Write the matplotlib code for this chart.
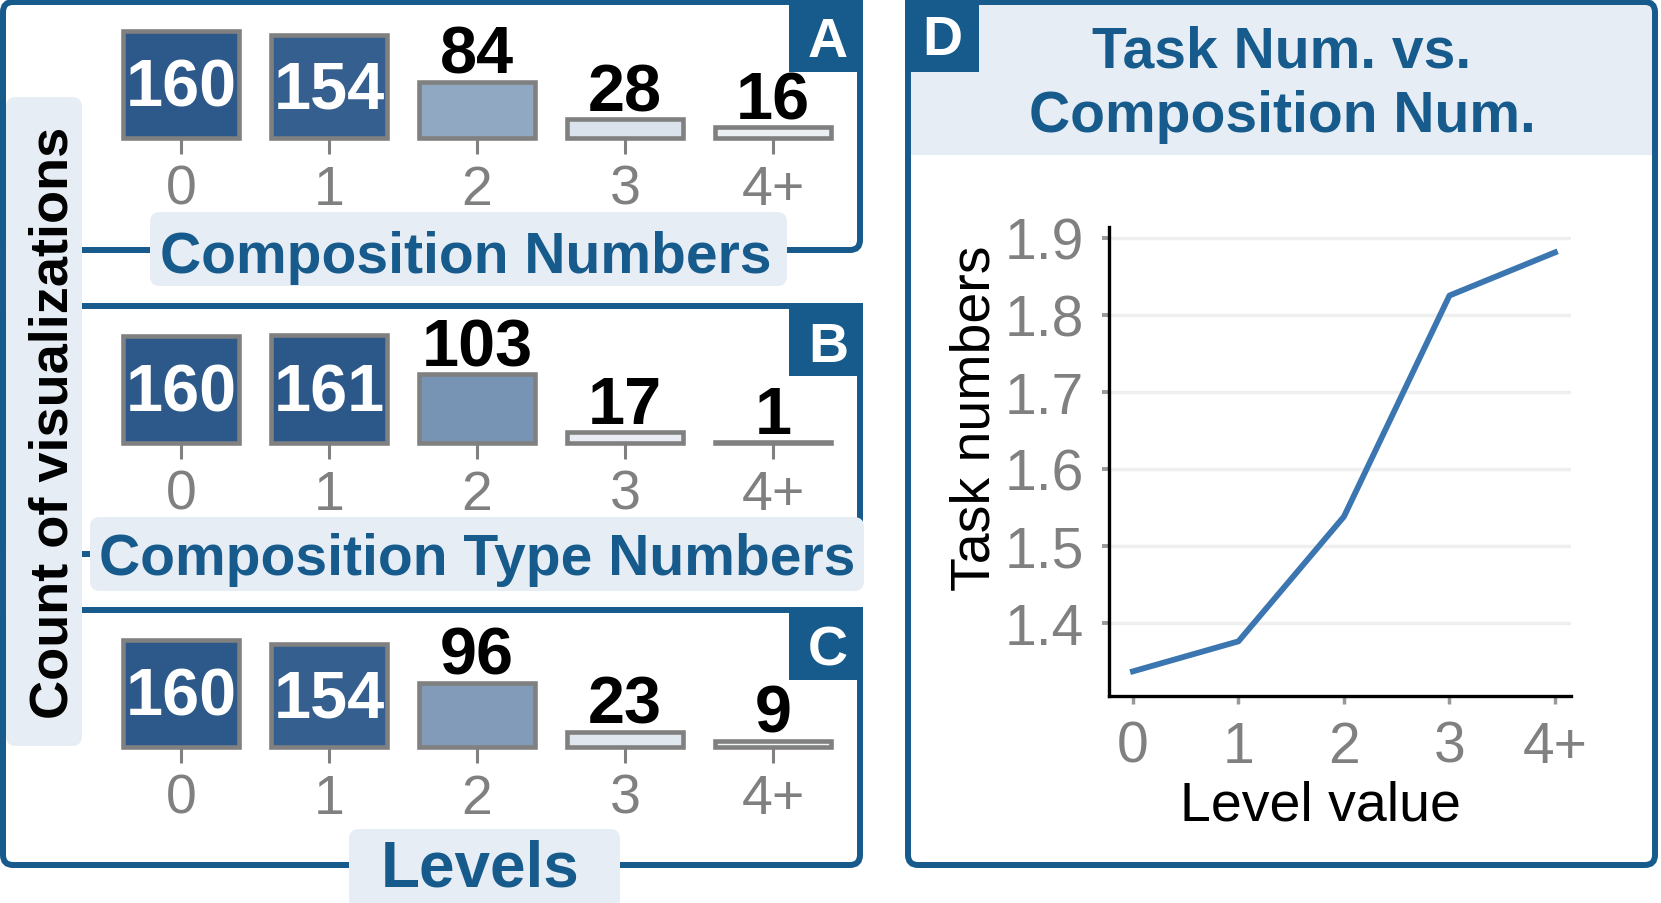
import matplotlib
matplotlib.use("Agg")
import matplotlib.pyplot as plt
from matplotlib.patches import FancyBboxPatch, Rectangle
from matplotlib.colors import LinearSegmentedColormap, Normalize

plt.rcParams['font.family'] = ['Liberation Sans', 'DejaVu Sans']

# data
levels = ['0', '1', '2', '3', '4+']
composition_numbers = [160, 154, 84, 28, 16]
composition_type_numbers = [160, 161, 103, 17, 1]
level_counts = [160, 154, 96, 23, 9]
task_numbers = [1.337, 1.376, 1.538, 1.825, 1.881]
task_ticks = [1.4, 1.5, 1.6, 1.7, 1.8, 1.9]

W, H = 1661, 904
BLUE = '#175a8c'
PALE = '#e6edf4'
GREY = '#808080'

cmap = LinearSegmentedColormap.from_list('bars', ['#ffffff', '#2b5889'])
norm = Normalize(0, 161)

fig = plt.figure(figsize=(W / 100, H / 100), dpi=100)

# background canvas in pixel units for frames and boxes
bg = fig.add_axes([0, 0, 1, 1])
bg.set_xlim(0, W)
bg.set_ylim(H, 0)
bg.axis('off')


def px_axes(x0, y0, x1, y1):
    ax = fig.add_axes([x0 / W, 1 - y1 / H, (x1 - x0) / W, (y1 - y0) / H])
    ax.set_facecolor('none')
    return ax


def frame(x0, y0, x1, y1):
    bg.add_patch(FancyBboxPatch((x0, y0), x1 - x0, y1 - y0,
                                boxstyle='round,pad=0,rounding_size=10',
                                fill=False, ec=BLUE, lw=4.3, zorder=1))


def tag(x0, y0, letter, tx, ty):
    bg.add_patch(Rectangle((x0, y0), 74, 73, fc=BLUE, ec='none', zorder=2))
    bg.text(tx, ty, letter, color='white', fontsize=40, fontweight='bold',
            ha='center', va='baseline', zorder=5)


def label_box(x0, y0, x1, y1, text, tx, ty, size=41, color=BLUE, rot=0):
    bg.add_patch(FancyBboxPatch((x0, y0), x1 - x0, y1 - y0,
                                boxstyle='round,pad=0,rounding_size=10',
                                fc=PALE, ec='none', zorder=3))
    bg.text(tx, ty, text, color=color, fontsize=size, fontweight='bold',
            ha='center', va='baseline', rotation=rot, rotation_mode='anchor',
            zorder=5)


# frames of panels A, B, C and the shared left edge
frame(3, 3, 860, 251)
frame(3, 307, 860, 555)
frame(3, 611, 860, 866)
bg.plot([3, 3], [20, 850], color=BLUE, lw=4.3, zorder=1)

tag(789, 0, 'A', 828, 57)
tag(789, 304, 'B', 828, 362)
tag(789, 608, 'C', 828, 666)

label_box(150, 213, 787, 287, 'Composition Numbers', 466, 273)
label_box(90, 518, 864, 592, 'Composition Type Numbers', 477, 575)
label_box(349, 830, 620, 910, 'Levels', 480, 887, size=46)
label_box(6, 98, 82, 747, 'Count of visualizations', 68, 423,
          size=39, color='black', rot=90)


def bar_panel(bottom, values):
    ax = px_axes(107, bottom - 120.4, 847, bottom)
    ax.set_xlim(-0.5, 4.5)
    ax.set_ylim(0, 180)
    x = list(range(len(values)))
    ax.bar(x, values, width=0.79, color=cmap(norm(values)),
           edgecolor=GREY, linewidth=3.3, clip_on=False)
    for i, v in zip(x, values):
        if v >= 120:
            ax.text(i, v * 0.3, str(v), color='white', fontsize=48,
                    fontweight='bold', ha='center', va='baseline')
        else:
            ax.annotate(str(v), (i, v), xytext=(0, 6.5),
                        textcoords='offset points', ha='center',
                        va='baseline', fontsize=48, fontweight='bold',
                        color='black')
    ax.set_xticks(x, levels)
    ax.set_yticks([])
    ax.tick_params(axis='x', length=11.5, width=2.2, color=GREY,
                   labelcolor=GREY, labelsize=40, pad=7)
    for s in ['top', 'bottom', 'left', 'right']:
        ax.spines[s].set_visible(False)
    return ax


bar_panel(139, composition_numbers)
bar_panel(444, composition_type_numbers)
bar_panel(748, level_counts)

# panel D
bg.add_patch(Rectangle((911, 6), 741, 150, fc=PALE, ec='none', zorder=0.5))
frame(908, 3, 1655, 866)
tag(905, 0, 'D', 942, 55)
bg.text(1282, 68, 'Task Num. vs.', color=BLUE, fontsize=41,
        fontweight='bold', ha='center', va='baseline', zorder=5)
bg.text(1282, 132, 'Composition Num.', color=BLUE, fontsize=41,
        fontweight='bold', ha='center', va='baseline', zorder=5)

ax = px_axes(1109, 228, 1571, 697)
ax.plot(range(len(task_numbers)), task_numbers, color='#3b76b1', lw=4.2)
ax.set_xlim(-0.227, 4.152)
ax.set_ylim(1.305, 1.914)
ax.set_xticks(range(len(levels)), levels)
ax.set_yticks(task_ticks, [f'{t:.1f}' for t in task_ticks])
ax.grid(axis='y', color='#efefef', lw=2.5)
ax.set_axisbelow(True)
for s in ['top', 'right']:
    ax.spines[s].set_visible(False)
for s in ['left', 'bottom']:
    ax.spines[s].set_linewidth(2.4)
    ax.spines[s].set_color('black')
ax.tick_params(axis='y', length=5, width=2.8, color='#999999',
               labelcolor=GREY, labelsize=41, pad=13)
ax.tick_params(axis='x', length=6, width=2.5, color='#999999',
               labelcolor=GREY, labelsize=41, pad=11)
ax.set_xlabel('Level value', fontsize=40, color='black')
ax.xaxis.set_label_coords(0.457, -0.179)
ax.set_ylabel('Task numbers', fontsize=40, color='black')
ax.yaxis.set_label_coords(-0.232, 0.595)

fig.savefig('out.png', dpi=100)
